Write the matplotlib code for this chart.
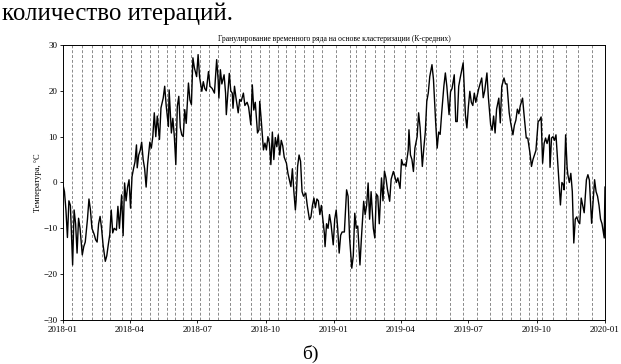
import matplotlib
matplotlib.use("Agg")
import matplotlib.pyplot as plt
import matplotlib.dates as mdates
import pandas as pd

plt.rcParams["font.family"] = ["Liberation Serif", "DejaVu Serif"]

START = "2018-01-01"

# daily mean temperature (day offset from START, °C)
days = [
    0, 2, 4, 6, 8, 10, 13, 15, 17, 19, 21, 23, 26, 28, 30, 33, 35, 37, 39, 42,
    44, 46, 48, 50, 52, 54, 57, 59, 61, 63, 65, 67, 69, 72, 74, 76, 79, 81, 83, 85,
    87, 89, 91, 93, 95, 97, 99, 100, 102, 104, 106, 108, 110, 112, 114, 117, 119, 121, 123, 125,
    127, 130, 132, 135, 137, 139, 142, 143, 146, 148, 150, 152, 154, 156, 158, 160, 162, 164, 166, 169,
    171, 173, 175, 177, 180, 182, 184, 187, 189, 191, 193, 196, 198, 201, 204, 207, 209, 210, 212, 214,
    217, 219, 220, 224, 226, 228, 229, 231, 233, 236, 238, 240, 243, 245, 248, 250, 253, 255, 257, 259,
    262, 264, 265, 267, 270, 272, 274, 276, 278, 280, 282, 284, 286, 288, 290, 292, 294, 296, 298, 301,
    303, 305, 307, 309, 311, 313, 314, 316, 318, 320, 322, 324, 327, 329, 332, 334, 336, 338, 340, 342,
    344, 346, 348, 350, 352, 353, 355, 357, 359, 361, 364, 366, 368, 370, 372, 374, 376, 379, 382, 384,
    386, 389, 391, 393, 395, 397, 400, 402, 405, 407, 409, 411, 413, 415, 418, 420, 422, 424, 426, 429,
    431, 433, 435, 437, 440, 442, 445, 447, 449, 451, 454, 456, 458, 460, 462, 465, 466, 468, 470, 472,
    474, 477, 479, 481, 484, 486, 488, 490, 492, 494, 497, 499, 502, 504, 506, 508, 510, 513, 515, 517,
    520, 522, 524, 527, 529, 531, 533, 535, 539, 542, 544, 546, 548, 550, 552, 554, 556, 558, 560, 564,
    566, 568, 571, 573, 576, 578, 580, 582, 584, 587, 589, 591, 594, 596, 598, 601, 603, 606, 608, 610,
    612, 614, 616, 619, 621, 624, 626, 629, 631, 633, 635, 637, 640, 642, 644, 646, 648, 650, 652, 655,
    656, 658, 660, 662, 664, 666, 667, 670, 672, 674, 675, 677, 679, 680, 682, 684, 686, 688, 690, 692,
    694, 696, 698, 700, 702, 705, 707, 709, 712, 714, 716, 718, 720, 722, 724, 726, 729, 730,
]
temps = [
    -0.5, -2, -6, -12, -4, -5, -18, -6, -9, -15.4, -7.8, -10, -15.8, -14, -13, -8, -3.6, -6, -10, -11.3,
    -12.5, -13, -9, -7.4, -10, -13.6, -17.2, -16, -13.6, -11.4, -6, -11, -10, -10.4, -5.2, -10, -2.7, -11.6, -0.1, -4,
    -1, 0.6, -5.6, 1.3, 3, 4.5, 8.2, 3.2, 6, 7, 8.8, 5, 3, -1, 4, 8.8, 7.5, 10, 15.2, 10,
    14.5, 9.4, 16.3, 18.4, 21, 16.8, 12.2, 20.2, 10.8, 14, 10, 3.9, 16.6, 18.8, 12, 10.4, 10, 15.9, 12.9, 21.7,
    18, 17, 27.2, 25, 23.1, 27.9, 23, 19.9, 22, 20.5, 20, 24.2, 21, 20.5, 19.5, 26.8, 22.4, 18.4, 24.6, 21.5,
    23.5, 19.5, 14.8, 23.8, 20, 19.5, 16.2, 21, 18.5, 15.2, 18.1, 17.7, 19.5, 16.8, 17.5, 16.5, 12.6, 21.3, 15.8, 17.5,
    10.8, 11.5, 17.7, 13.7, 7.1, 8.6, 7.1, 10, 8.6, 3.9, 11, 5, 9.8, 7.8, 10.4, 6, 9.2, 8, 5.5, 4.2,
    2, 0.6, -0.9, 3, -2, -6, -4, 3.5, 6, 4.6, -2, -3, -2.3, -5, -8.1, -7.5, -5, -3.4, -5.5, -3.6,
    -4, -7, -5, -8, -11, -14, -9, -10, -7, -9, -13.6, -8, -6, -10, -15.4, -11.5, -10.8, -10.8, -1.6, -3,
    -12, -18.7, -16, -6.7, -10, -9.5, -18, -12, -4.1, -7, -5, -0.1, -8, -2, -10, -12.1, -2.5, -3, -9, 1,
    -4, 2.5, 1, -1.5, -4.1, 0.7, 2.4, 1.3, 0, 1, -1.3, 5, 3.8, 4, 3.5, 7.1, 11.5, 6, 5, 2.4,
    7.5, 10, 15.2, 12, 3.5, 7.5, 11, 17.7, 19.5, 23.1, 25.7, 22.5, 13, 7.5, 11, 10.5, 15, 21, 23.9, 21,
    14.8, 19.8, 20.5, 23.5, 13.3, 13.3, 21, 22.8, 26.1, 14.8, 11.9, 16.5, 19.9, 17.5, 16.8, 19.5, 17.5, 19, 20.5, 22.8,
    18.5, 20, 23.9, 18.5, 12.6, 11.4, 14.5, 10.8, 16, 18.4, 13, 21, 22.8, 21.5, 21.5, 15.2, 13, 10.4, 12.5, 13.6,
    16, 15, 16.8, 18.4, 14.8, 9.7, 9.7, 6.4, 3.5, 5, 6, 7, 13.3, 13.6, 14.3, 4.2, 8.5, 9.7, 8.5, 10.4,
    3.3, 9.7, 10, 9.2, 10.4, 5.3, 2.8, -4.9, 0, -0.5, -1.6, 10.4, 3.3, 1.7, 0, 2, -2, -13.2, -8, -7.5,
    -8.5, -9, -3.4, -5, -6.6, 0.6, 1.7, 0.5, -8.9, -4, 0.6, -2, -3, -5, -8, -9, -12.1, -1,
]

# cluster (granule) boundaries found by K-means
boundaries = [
    "2018-01-13", "2018-01-27", "2018-02-09", "2018-02-22", "2018-03-06", "2018-03-22",
    "2018-04-03", "2018-04-16", "2018-04-28", "2018-05-09", "2018-05-21", "2018-06-01",
    "2018-06-12", "2018-06-23", "2018-07-05", "2018-07-17", "2018-07-29", "2018-08-14",
    "2018-08-28", "2018-09-11", "2018-09-24", "2018-10-06", "2018-10-18", "2018-10-29",
    "2018-11-09", "2018-11-21", "2018-12-04", "2018-12-16", "2019-01-04", "2019-01-22",
    "2019-01-30", "2019-02-12", "2019-02-25", "2019-03-10", "2019-03-23", "2019-04-07",
    "2019-04-22", "2019-05-05", "2019-05-18", "2019-06-06", "2019-06-24", "2019-07-12",
    "2019-07-30", "2019-08-15", "2019-08-27", "2019-09-08", "2019-09-21", "2019-10-02",
    "2019-10-08", "2019-10-23", "2019-11-09", "2019-11-25", "2019-12-14",
]

dates = pd.Timestamp(START) + pd.to_timedelta(days, unit="D")

fig = plt.figure(figsize=(6.21, 3.64), dpi=100)
ax = fig.add_axes([0.1014, 0.1209, 0.8728, 0.7555])

for b in boundaries:
    ax.axvline(pd.Timestamp(b), color="#8a8a8a", lw=0.7, ls=(0, (3, 2)), zorder=1)
ax.plot(dates, temps, color="black", lw=1.0, zorder=2)

ax.set_xlim(pd.Timestamp("2018-01-01"), pd.Timestamp("2020-01-01"))
ax.set_ylim(-30, 30)
ax.set_yticks(range(-30, 31, 10))
ax.xaxis.set_major_locator(mdates.MonthLocator(bymonth=[1, 4, 7, 10]))
ax.xaxis.set_major_formatter(mdates.DateFormatter("%Y-%m"))
ax.tick_params(labelsize=6.5, length=2.5, width=0.6, pad=1.5)
for s in ax.spines.values():
    s.set_linewidth(0.7)

ax.set_title("Гранулирование временного ряда на основе кластеризации (К-средних)",
             fontsize=5.5, pad=3)
ax.set_ylabel("Температура, °C", fontsize=6, labelpad=1)

fig.text(0.004, 0.946, "количество итераций.", fontsize=18, va="baseline", ha="left")
fig.text(0.499, 0.015, "б)", fontsize=14, va="baseline", ha="center")

fig.savefig("out.png", dpi=100)
